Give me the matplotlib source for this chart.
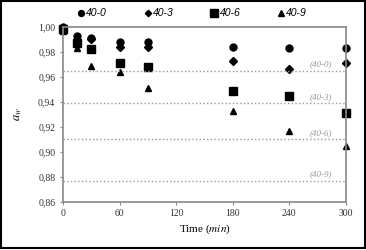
import matplotlib.pyplot as plt
from matplotlib.patches import Rectangle

time = [0, 15, 30, 60, 90, 180, 240, 300]
aw_40_0 = [1.000, 0.993, 0.991, 0.988, 0.9875, 0.984, 0.983, 0.983]
aw_40_3 = [0.999, 0.989, 0.990, 0.984, 0.984, 0.973, 0.966, 0.971]
aw_40_6 = [0.998, 0.987, 0.982, 0.971, 0.968, 0.949, 0.945, 0.931]
aw_40_9 = [0.997, 0.983, 0.969, 0.964, 0.951, 0.933, 0.917, 0.905]
labels = ['40-0', '40-3', '40-6', '40-9']
limits = [0.965, 0.939, 0.910, 0.877]

plt.rcParams['font.family'] = 'Liberation Serif'
plt.rcParams['mathtext.fontset'] = 'stix'

fig = plt.figure(figsize=(3.66, 2.5), dpi=100)
ax = fig.add_axes([0.172, 0.193, 0.773, 0.70])

series = [aw_40_0, aw_40_3, aw_40_6, aw_40_9]
markers = ['o', 'D', 's', '^']
sizes = [5, 3.8, 6, 4.5]
for s, m, ms, lab in zip(series, markers, sizes, labels):
    ax.plot(time, s, linestyle='none', marker=m, markersize=ms, color='black',
            label=lab, clip_on=False)

for lim, lab in zip(limits, labels):
    ax.axhline(lim, color='#999999', linestyle=':', linewidth=1)
    ax.text(285, lim + 0.0015, '(' + lab + ')', color='#999999', style='italic',
            fontsize=6.5, ha='right', va='bottom')

ax.set_xlim(0, 300)
ax.set_ylim(0.86, 1.00)
ax.set_xticks([0, 60, 120, 180, 240, 300])
ax.set_yticks([0.86 + 0.02 * i for i in range(8)])
ax.set_yticklabels([('%.2f' % (0.86 + 0.02 * i)).replace('.', ',') for i in range(8)])
ax.tick_params(labelsize=7, length=2, color='#888888', colors='#333333')
for sp in ax.spines.values():
    sp.set_color('#888888')
    sp.set_linewidth(1.2)

ax.set_xlabel('Time ($\\mathit{min}$)', fontsize=8, labelpad=3)
ax.set_ylabel('$a_w$', fontsize=9, labelpad=10)

leg = ax.legend(loc='lower left', bbox_to_anchor=(0.02, 1.0), ncol=4, frameon=False,
                prop={'family': 'Liberation Sans', 'style': 'italic', 'size': 7.5},
                handletextpad=0.1, columnspacing=3.5, borderaxespad=0.4,
                handlelength=0.8, markerscale=0.85)

fig.patches.append(Rectangle((0.004, 0.008), 0.992, 0.988, transform=fig.transFigure,
                             fill=False, edgecolor='black', linewidth=1.5))

fig.savefig('out.png', dpi=100)
